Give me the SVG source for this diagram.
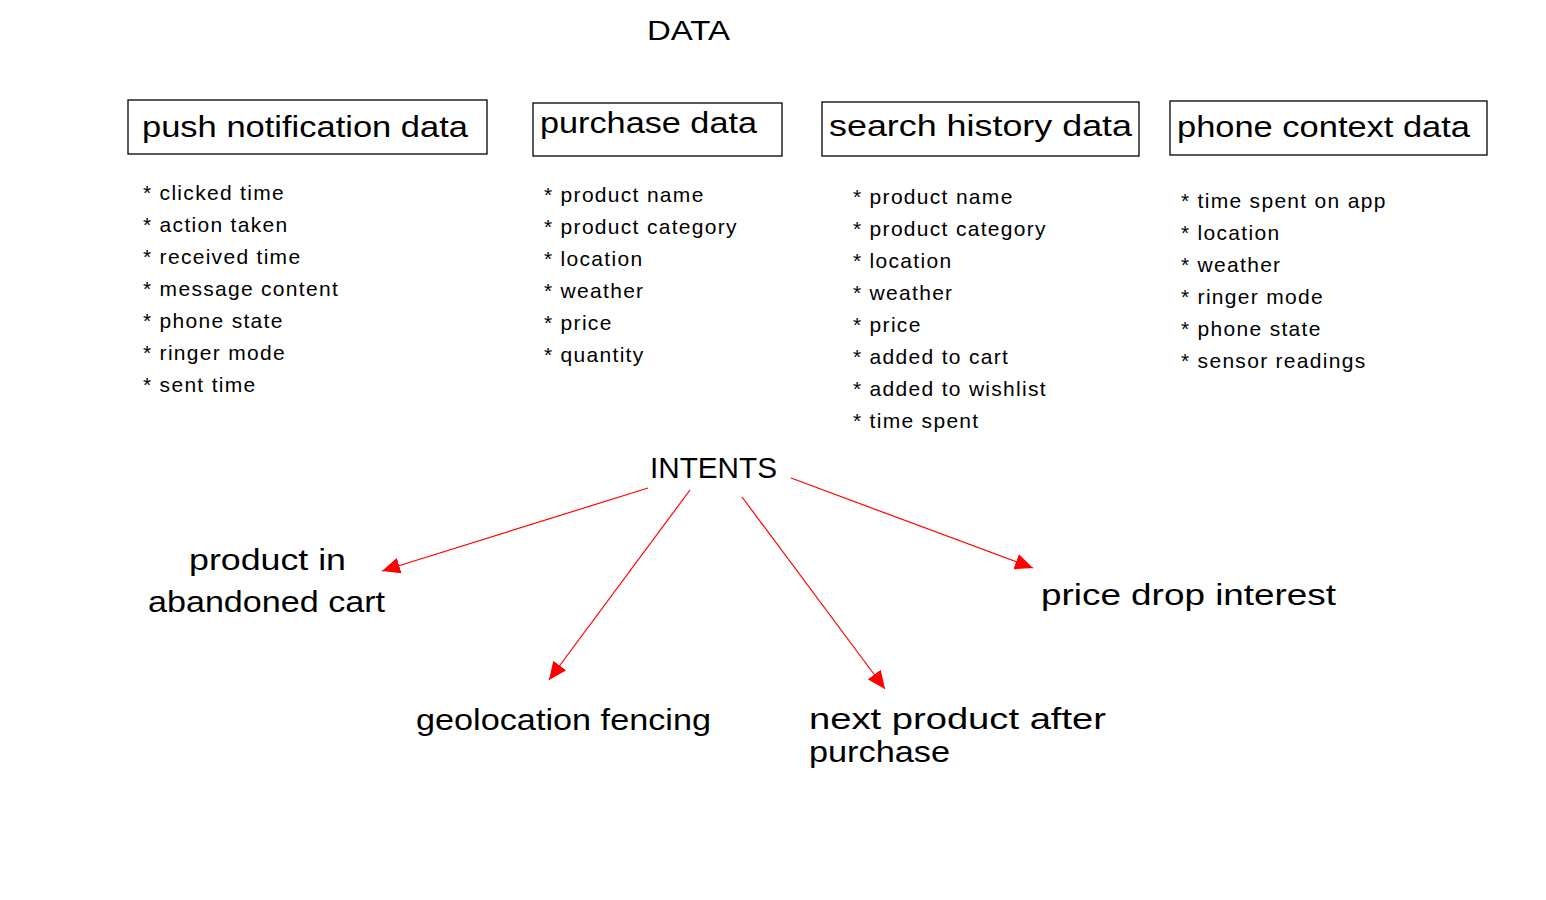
<svg xmlns="http://www.w3.org/2000/svg" width="1546" height="900" viewBox="0 0 1546 900">
<style>
text{font-family:"Liberation Sans","DejaVu Sans",sans-serif;fill:#000}
.title{font-size:29px}
.item{font-size:21px;letter-spacing:1.3px}
.label{font-size:30px}
.box{fill:none;stroke:#000;stroke-width:1.3}
.conn{stroke:#ff0000;stroke-width:1.2;fill:none}
</style>
<defs>
<marker id="ah" markerUnits="userSpaceOnUse" markerWidth="20" markerHeight="16" refX="18" refY="8" orient="auto">
<path d="M0,0 L18,8 L0,16 Z" fill="#ff0000"/>
</marker>
</defs>
<rect width="1546" height="900" fill="#fff"/>
<text id="data-title" class="label" x="647" y="40" textLength="83" lengthAdjust="spacingAndGlyphs" style="font-size:28px">DATA</text>

<g id="push">
<rect class="box" x="128" y="100" width="359" height="54"/>
<text class="title" x="142" y="137" textLength="326" lengthAdjust="spacingAndGlyphs">push notification data</text>
<text class="item" x="143" y="200">* clicked time</text>
<text class="item" x="143" y="232">* action taken</text>
<text class="item" x="143" y="264">* received time</text>
<text class="item" x="143" y="296">* message content</text>
<text class="item" x="143" y="328">* phone state</text>
<text class="item" x="143" y="360">* ringer mode</text>
<text class="item" x="143" y="392">* sent time</text>
</g>

<g id="purchase">
<rect class="box" x="533" y="103" width="249" height="53"/>
<text class="title" x="540" y="133" textLength="217" lengthAdjust="spacingAndGlyphs">purchase data</text>
<text class="item" x="544" y="202">* product name</text>
<text class="item" x="544" y="234">* product category</text>
<text class="item" x="544" y="266">* location</text>
<text class="item" x="544" y="298">* weather</text>
<text class="item" x="544" y="330">* price</text>
<text class="item" x="544" y="362">* quantity</text>
</g>

<g id="search">
<rect class="box" x="822" y="102" width="317" height="54"/>
<text class="title" x="829" y="136" textLength="303" lengthAdjust="spacingAndGlyphs">search history data</text>
<text class="item" x="853" y="204">* product name</text>
<text class="item" x="853" y="236">* product category</text>
<text class="item" x="853" y="268">* location</text>
<text class="item" x="853" y="300">* weather</text>
<text class="item" x="853" y="332">* price</text>
<text class="item" x="853" y="364">* added to cart</text>
<text class="item" x="853" y="396">* added to wishlist</text>
<text class="item" x="853" y="428">* time spent</text>
</g>

<g id="phone">
<rect class="box" x="1170" y="101" width="317" height="54"/>
<text class="title" x="1177" y="137" textLength="293" lengthAdjust="spacingAndGlyphs">phone context data</text>
<text class="item" x="1181" y="208">* time spent on app</text>
<text class="item" x="1181" y="240">* location</text>
<text class="item" x="1181" y="272">* weather</text>
<text class="item" x="1181" y="304">* ringer mode</text>
<text class="item" x="1181" y="336">* phone state</text>
<text class="item" x="1181" y="368">* sensor readings</text>
</g>

<g id="intents">
<text class="label" x="650" y="478" textLength="127" lengthAdjust="spacingAndGlyphs">INTENTS</text>
</g>

<g id="connectors">
<line class="conn" x1="648" y1="488" x2="382" y2="571" marker-end="url(#ah)"/>
<line class="conn" x1="690" y1="490" x2="549" y2="680" marker-end="url(#ah)"/>
<line class="conn" x1="742" y1="497" x2="885" y2="689" marker-end="url(#ah)"/>
<line class="conn" x1="791" y1="478" x2="1033" y2="568" marker-end="url(#ah)"/>
</g>

<g id="abandoned-cart">
<text class="label" x="189" y="570" textLength="157" lengthAdjust="spacingAndGlyphs">product in</text>
<text class="label" x="148" y="612" textLength="237" lengthAdjust="spacingAndGlyphs">abandoned cart</text>
</g>
<g id="geofencing">
<text class="label" x="416" y="730" textLength="295" lengthAdjust="spacingAndGlyphs">geolocation fencing</text>
</g>
<g id="next-product">
<text class="label" x="809" y="729" textLength="297" lengthAdjust="spacingAndGlyphs">next product after</text>
<text class="label" x="809" y="762" textLength="141" lengthAdjust="spacingAndGlyphs">purchase</text>
</g>
<g id="price-drop">
<text class="label" x="1041" y="605" textLength="295" lengthAdjust="spacingAndGlyphs">price drop interest</text>
</g>
</svg>
